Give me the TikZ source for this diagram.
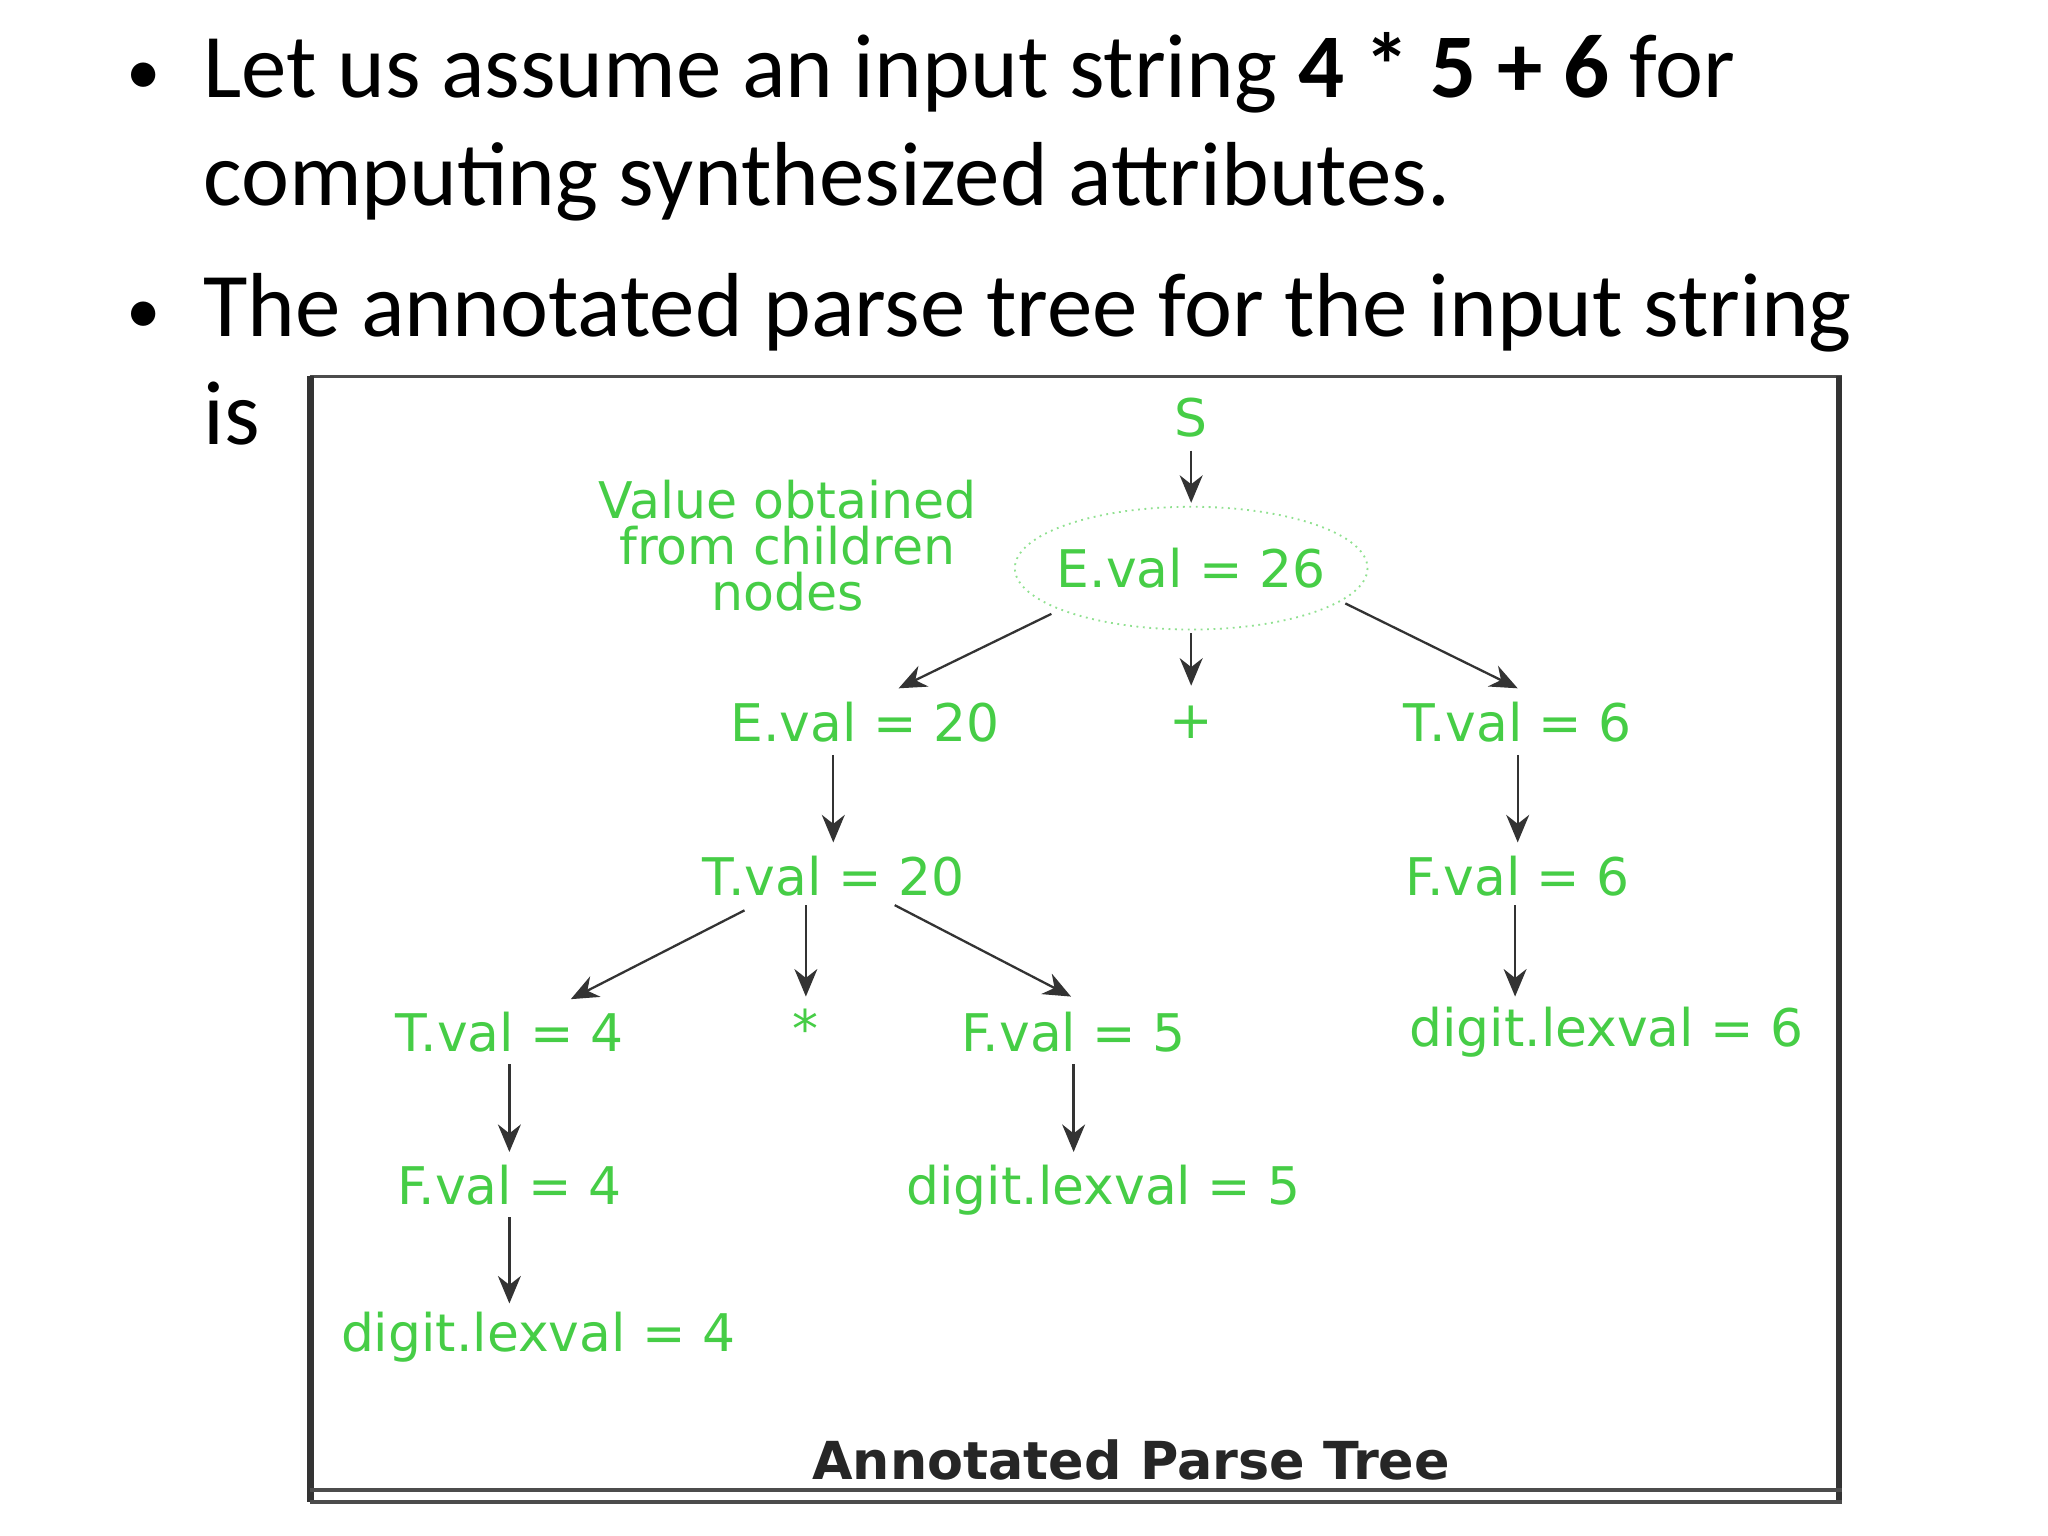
\documentclass[tikz,border=0pt]{standalone}
\usepackage{fontspec}
\setmainfont{Carlito}
\newfontfamily\diag{DejaVu Sans}
\usetikzlibrary{arrows.meta}
\definecolor{lbl}{RGB}{70,205,70}
\tikzset{
  lab/.style={font=\diag\fontsize{11.3}{12}\selectfont, text=lbl, inner sep=2pt},
  arr/.style={-{Stealth[length=6pt,width=5pt]}, draw=black!80, line width=0.5pt},
  bul/.style={font=\fontsize{19.8}{22}\selectfont, anchor=base west, inner sep=0}
}
\begin{document}
\begin{tikzpicture}[x=0.01cm,y=-0.01cm]
\useasboundingbox (0,0) rectangle (1568,1176);
% bullets
\node[bul] (b1a) at (155,75) {Let us assume an input string \textbf{4 * 5 + 6} for};
\node[bul] (b1b) at (155,157) {computing synthesized attributes.};
\node[bul] (b2a) at (155,258) {The annotated parse tree for the input string};
\node[bul] (b2b) at (155,340) {is};
\node[font=\fontsize{15}{18}\selectfont, anchor=base] (d1) at (110,72) {•};
\node[font=\fontsize{15}{18}\selectfont, anchor=base] (d2) at (110,255) {•};
% frame
\draw[black!70, line width=0.6pt] (237,288) -- (1410,288);
\draw[black!80, line width=1.5pt] (238,288) -- (238,1150);
\draw[black!80, line width=1.5pt] (1408,288) -- (1408,1150);
\draw[black!70, line width=0.8pt] (237,1141) -- (1410,1141);
\draw[black!70, line width=0.8pt] (237,1150) -- (1410,1150);
% nodes
\node[lab] (S) at (912,320) {S};
\draw[lbl!60, densely dotted] (912,435) ellipse (135 and 47);
\node[lab] (E26t) at (912,435) {E.val = 26};
\node[lab, align=center, font=\diag\fontsize{11}{10}\selectfont] (note) at (603,418) {Value obtained\\from children\\nodes};
\node[lab] (E20) at (662,553) {E.val = 20};
\node[lab] (plus) at (912,553) {+};
\node[lab] (T6) at (1162,553) {T.val = 6};
\node[lab] (T20) at (638,671) {T.val = 20};
\node[lab] (F6) at (1162,671) {F.val = 6};
\node[lab] (T4) at (390,790) {T.val = 4};
\node[lab] (star) at (617,787) {*};
\node[lab] (F5) at (822,790) {F.val = 5};
\node[lab] (d6) at (1230,790) {digit.lexval = 6};
\node[lab] (F4) at (390,907) {F.val = 4};
\node[lab] (d5) at (845,911) {digit.lexval = 5};
\node[lab] (d4) at (412,1024) {digit.lexval = 4};
\node[font=\diag\bfseries\fontsize{11.4}{12}\selectfont, text=black!85] (cap) at (866,1118) {Annotated Parse Tree};
% coordinates for arrow ends
\coordinate (a1) at (912,345); \coordinate (a1e) at (912,385);
\coordinate (a2) at (805,470); \coordinate (a2e) at (688,527);
\coordinate (a3) at (912,485); \coordinate (a3e) at (912,525);
\coordinate (a4) at (1030,462); \coordinate (a4e) at (1162,527);
\coordinate (a5) at (638,578); \coordinate (a5e) at (638,645);
\coordinate (a6) at (570,697); \coordinate (a6e) at (437,765);
\coordinate (a7) at (617,693); \coordinate (a7e) at (617,763);
\coordinate (a8) at (685,693); \coordinate (a8e) at (820,763);
\coordinate (a9) at (1162,578); \coordinate (a9e) at (1162,645);
\coordinate (a10) at (1160,693); \coordinate (a10e) at (1160,763);
\coordinate (a11) at (390,815); \coordinate (a11e) at (390,882);
\coordinate (a12) at (822,815); \coordinate (a12e) at (822,882);
\coordinate (a13) at (390,932); \coordinate (a13e) at (390,998);
\foreach \i in {1,...,13} \draw[arr] (a\i) -- (a\i e);
\end{tikzpicture}
\end{document}
